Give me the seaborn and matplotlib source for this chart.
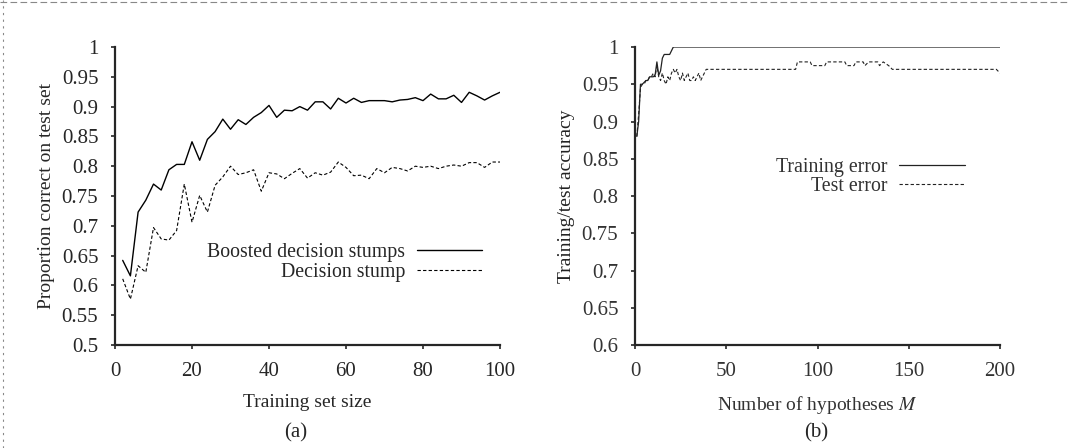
import matplotlib
matplotlib.use("Agg")
import matplotlib.pyplot as plt
import seaborn as sns
import pandas as pd
from matplotlib.lines import Line2D

# Panel (a): learning curves
train_size = list(range(2, 101, 2))
boosted = [0.642, 0.616, 0.723, 0.743, 0.770, 0.760, 0.794, 0.803, 0.803, 0.841,
           0.810, 0.845, 0.858, 0.879, 0.862, 0.878, 0.870, 0.882, 0.890, 0.902,
           0.882, 0.894, 0.893, 0.900, 0.894, 0.908, 0.908, 0.896, 0.914, 0.906,
           0.914, 0.907, 0.910, 0.910, 0.910, 0.908, 0.911, 0.912, 0.915, 0.910,
           0.921, 0.913, 0.913, 0.919, 0.907, 0.924, 0.918, 0.911, 0.918, 0.924]
stump = [0.611, 0.577, 0.633, 0.622, 0.697, 0.678, 0.676, 0.692, 0.770, 0.706,
         0.751, 0.723, 0.768, 0.782, 0.800, 0.786, 0.789, 0.794, 0.758, 0.789,
         0.787, 0.779, 0.788, 0.796, 0.780, 0.789, 0.785, 0.790, 0.807, 0.798,
         0.784, 0.785, 0.779, 0.796, 0.789, 0.798, 0.796, 0.792, 0.800, 0.798,
         0.800, 0.796, 0.800, 0.802, 0.800, 0.806, 0.806, 0.798, 0.807, 0.807]

# Panel (b): accuracy vs number of hypotheses (points where the curve changes)
m_train = [1, 2, 3, 4, 6, 7, 8, 10, 11, 12, 13, 14, 15, 16, 19, 20, 21, 200]
acc_train = [0.880, 0.900, 0.950, 0.950, 0.955, 0.955, 0.960, 0.960, 0.962, 0.980,
             0.962, 0.968, 0.985, 0.990, 0.990, 0.995, 1.000, 1.000]
m_test = [1, 2, 3, 4, 5, 6, 7, 8, 9, 10, 11, 12, 13, 14, 15, 16, 17, 18, 19, 20,
          21, 22, 23, 24, 25, 26, 27, 28, 29, 30, 31, 32, 33, 34, 35, 36, 37, 38,
          39, 40, 88, 89, 96, 97, 104, 105, 115, 116, 120, 121, 125, 126, 128,
          133, 134, 136, 139, 141, 198, 200]
acc_test = [0.880, 0.910, 0.945, 0.950, 0.950, 0.955, 0.955, 0.960, 0.960, 0.965,
            0.960, 0.975, 0.960, 0.955, 0.965, 0.955, 0.950, 0.960, 0.955, 0.965,
            0.970, 0.965, 0.970, 0.960, 0.955, 0.965, 0.955, 0.960, 0.965, 0.955,
            0.955, 0.960, 0.955, 0.960, 0.965, 0.955, 0.960, 0.965, 0.970, 0.970,
            0.970, 0.980, 0.980, 0.975, 0.975, 0.980, 0.980, 0.975, 0.975, 0.980,
            0.980, 0.975, 0.980, 0.980, 0.975, 0.980, 0.975, 0.970, 0.970, 0.965]

sns.set_theme(style="ticks")
plt.rcParams['font.family'] = ['Liberation Serif', 'DejaVu Serif']
plt.rcParams['mathtext.fontset'] = 'stix'

fig = plt.figure(figsize=(10.69, 4.48), dpi=100)
W, H = 1069, 448
ax1 = fig.add_axes([115 / W, 1 - 345 / H, 385 / W, 298 / H])
ax2 = fig.add_axes([635 / W, 1 - 345 / H, 365 / W, 298 / H])

fs = 14
df_a = pd.DataFrame({"size": train_size, "boosted": boosted, "stump": stump})
sns.lineplot(data=df_a, x="size", y="boosted", ax=ax1, color="black", lw=1.0,
             label="Boosted decision stumps")
sns.lineplot(data=df_a, x="size", y="stump", ax=ax1, color="black", lw=0.8,
             linestyle=(0, (3, 2)), label="Decision stump")
ax1.set_xlim(0, 100)
ax1.set_ylim(0.5, 1.0)
ax1.set_xticks([0, 20, 40, 60, 80, 100])
ax1.set_yticks([0.5, 0.55, 0.6, 0.65, 0.7, 0.75, 0.8, 0.85, 0.9, 0.95, 1.0])
ax1.set_yticklabels(["0.5", "0.55", "0.6", "0.65", "0.7", "0.75", "0.8", "0.85",
                     "0.9", "0.95", "1"])
ax1.set_xlabel("Training set size", fontsize=fs)
ax1.set_ylabel("Proportion correct on test set", fontsize=fs)
ax1.xaxis.set_label_coords(0.5, -0.165)
ax1.yaxis.set_label_coords(-0.155, 0.5)

df_b1 = pd.DataFrame({"m": m_train, "acc": acc_train})
df_b2 = pd.DataFrame({"m": m_test, "acc": acc_test})
sns.lineplot(data=df_b1, x="m", y="acc", ax=ax2, color="#222222", lw=0.9,
             label="Training error")
sns.lineplot(data=df_b2, x="m", y="acc", ax=ax2, color="#222222", lw=0.8,
             linestyle=(0, (3, 2)), label="Test error")
ax2.set_xlim(0, 200)
ax2.set_ylim(0.6, 1.0)
ax2.set_xticks([0, 50, 100, 150, 200])
ax2.set_yticks([0.6, 0.65, 0.7, 0.75, 0.8, 0.85, 0.9, 0.95, 1.0])
ax2.set_yticklabels(["0.6", "0.65", "0.7", "0.75", "0.8", "0.85", "0.9", "0.95", "1"])
ax2.set_xlabel("Number of hypotheses $\\mathit{M}$", fontsize=fs, color="#333333")
ax2.set_ylabel("Training/test accuracy", fontsize=fs, color="#222222")
ax2.xaxis.set_label_coords(0.5, -0.165)
ax2.yaxis.set_label_coords(-0.165, 0.5)

for ax in (ax1, ax2):
    sns.despine(ax=ax)
    ax.spines['left'].set_linewidth(1.6)
    ax.spines['bottom'].set_linewidth(1.6)
    ax.tick_params(direction='out', length=3, width=1.2, labelsize=15, pad=9)
for lab in ax2.get_xticklabels() + ax2.get_yticklabels():
    lab.set_color("#333333")

ax1.legend(loc="upper right", bbox_to_anchor=(0.975, 0.37), frameon=False,
           markerfirst=False, fontsize=14.3, handlelength=3.3, labelspacing=0.05,
           borderaxespad=0, handletextpad=0.6)
leg2 = ax2.legend(loc="upper right", bbox_to_anchor=(0.925, 0.655), frameon=False,
                  markerfirst=False, fontsize=14.3, handlelength=3.3,
                  labelspacing=0.0, borderaxespad=0, handletextpad=0.6)
for t in leg2.get_texts():
    t.set_color("#333333")

fig.text(296 / W, 1 - 433 / H, "(a)", ha="center", va="center", fontsize=15)
fig.text(816 / W, 1 - 433 / H, "(b)", ha="center", va="center", fontsize=15)

# scan border
fig.add_artist(Line2D([0, 1], [1 - 2 / H, 1 - 2 / H], transform=fig.transFigure,
                      color="#888888", lw=0.8, linestyle=(0, (6, 3))))
fig.add_artist(Line2D([3 / W, 3 / W], [0, 1], transform=fig.transFigure,
                      color="#888888", lw=0.8, linestyle=(0, (2, 4))))

fig.savefig("out.png", dpi=100)
